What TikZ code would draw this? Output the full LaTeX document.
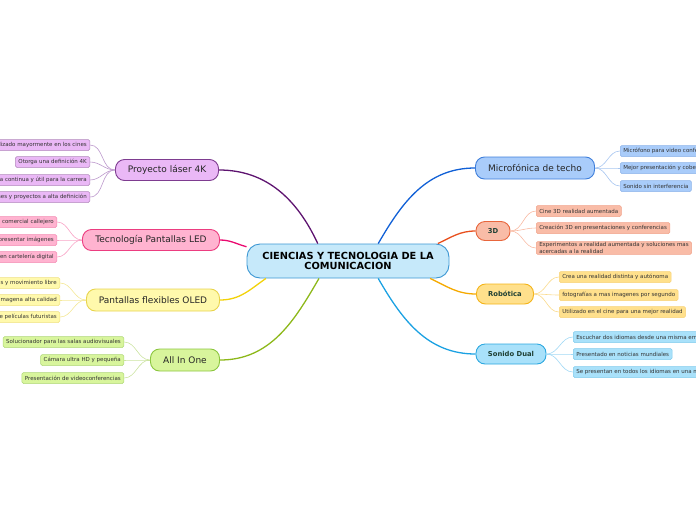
\documentclass[tikz,border=0pt]{standalone}
\usepackage{fontspec}
\setmainfont{DejaVu Sans}
\definecolor{ctrfill}{HTML}{C6E9FA}
\definecolor{ctrline}{HTML}{3C97D3}
\definecolor{violetfill}{HTML}{EAB8F6}
\definecolor{violetline}{HTML}{7E3C90}
\definecolor{violetbranch}{HTML}{5E1470}
\definecolor{violettwig}{HTML}{BC98CC}
\definecolor{pinkfill}{HTML}{FFB3D0}
\definecolor{pinkline}{HTML}{EC3D80}
\definecolor{pinkbranch}{HTML}{EA0A70}
\definecolor{pinktwig}{HTML}{F8A4C6}
\definecolor{yelfill}{HTML}{FFF9AC}
\definecolor{yelline}{HTML}{E8D44E}
\definecolor{yelbranch}{HTML}{F2D20A}
\definecolor{yeltwig}{HTML}{F4E898}
\definecolor{grnfill}{HTML}{D8F59C}
\definecolor{grnline}{HTML}{8CC63F}
\definecolor{grnbranch}{HTML}{8DB81A}
\definecolor{grntwig}{HTML}{CBE3A0}
\definecolor{bluefill}{HTML}{A9CCFA}
\definecolor{blueline}{HTML}{3F7FDB}
\definecolor{bluebranch}{HTML}{1160D6}
\definecolor{bluetwig}{HTML}{A8C6F0}
\definecolor{orgfill}{HTML}{F9BCA7}
\definecolor{orgline}{HTML}{E8663C}
\definecolor{orgbranch}{HTML}{E8501E}
\definecolor{orgtwig}{HTML}{F8BBA4}
\definecolor{ambfill}{HTML}{FFE08C}
\definecolor{ambline}{HTML}{F4B41A}
\definecolor{ambbranch}{HTML}{F5A900}
\definecolor{ambtwig}{HTML}{FADB8E}
\definecolor{skyfill}{HTML}{A9E1FA}
\definecolor{skyline}{HTML}{2CA8E0}
\definecolor{skybranch}{HTML}{1BA1E2}
\definecolor{skytwig}{HTML}{A2D9F5}
\definecolor{darkgrn}{HTML}{1F4034}
\begin{document}
\begin{tikzpicture}[x=1pt, y=1pt,
  every node/.style={font=\fontsize{5.5}{6.6}\selectfont, text=black!80},
  central/.style={draw=ctrline, fill=ctrfill, line width=0.9pt, rounded corners=13pt,
    minimum width=202pt, minimum height=34pt, inner sep=0pt, align=center,
    font=\bfseries\fontsize{9.8}{10.6}\selectfont, text=black},
  topic/.style={rounded corners=9pt, line width=0.9pt, inner sep=0pt,
    minimum height=21pt, font=\fontsize{9}{10}\selectfont, text=black!85},
  subtopic/.style={topic, minimum height=20pt, font=\bfseries\fontsize{6.8}{8}\selectfont, text=darkgrn},
  leaf/.style={rounded corners=1.5pt, line width=0.5pt, inner xsep=3pt, inner ysep=1pt,
    minimum height=11pt},
  branch/.style={line width=1.3pt},
  twig/.style={line width=0.6pt}]
\useasboundingbox (0,0) rectangle (696,-520);
\clip (0,0) rectangle (696,-520);

% centre
\node[central] (ctr) at (348,-261) {CIENCIAS Y TECNOLOGIA DE LA\\COMUNICACION};

% main topics, left
\node[topic, draw=violetline, fill=violetfill, minimum width=103pt] (proy) at (167,-170) {Proyecto láser 4K};
\node[topic, draw=pinkline, fill=pinkfill, minimum width=137pt] (led) at (151,-240) {Tecnología Pantallas LED};
\node[topic, draw=yelline, fill=yelfill, minimum width=133pt, minimum height=22pt] (oled) at (153,-300) {Pantallas flexibles OLED};
\node[topic, draw=grnline, fill=grnfill, minimum width=69pt, minimum height=22pt] (aio) at (185,-360) {All In One};

% main topics, right
\node[topic, draw=blueline, fill=bluefill, minimum width=119pt, minimum height=22pt] (mic) at (535,-168) {Microfónica de techo};
\node[subtopic, draw=orgline, fill=orgfill, minimum width=34pt, minimum height=19pt] (tres) at (493,-231) {3D};
\node[subtopic, draw=ambline, fill=ambfill, minimum width=57pt] (robo) at (505,-294) {Robótica};
\node[subtopic, draw=skyline, fill=skyfill, minimum width=70pt] (dual) at (511,-354) {Sonido Dual};

% branches
\draw[branch, violetbranch] (ctr.150) to[out=115, in=0] (proy.east);
\draw[branch, pinkbranch] (ctr.172) to[out=165, in=0] (led.east);
\draw[branch, yelbranch] (ctr.192) to[out=215, in=0] (oled.east);
\draw[branch, grnbranch] (ctr.211) to[out=240, in=0] (aio.east);
\draw[branch, bluebranch] (ctr.30) to[out=60, in=180] (mic.west);
\draw[branch, orgbranch] (ctr.11) to[out=25, in=180] (tres.west);
\draw[branch, ambbranch] (ctr.348) to[out=-25, in=180] (robo.west);
\draw[branch, skybranch] (ctr.330) to[out=-60, in=180] (dual.west);

% leaves, left
\foreach \i/\y/\txt in {1/145/Utilizado mayormente en los cines, 2/162/Otorga una definición 4K,
    3/180/Tecnología continua y útil para la carrera, 4/197/Imágenes y proyectos a alta definición} {
  \node[leaf, draw=violetline!60, fill=violetfill, anchor=east] (p\i) at (90,-\y) {\txt};
  \draw[twig, violettwig] (proy.west) to[out=180, in=0] (p\i.east);
}
\foreach \i/\y/\txt in {1/222/Publicidad comercial callejero, 2/240/Utilizado para representar imágenes,
    3/257/Usado en cartelería digital} {
  \node[leaf, draw=pinkline!60, fill=pinkfill, anchor=east] (l\i) at (57,-\y) {\txt};
  \draw[twig, pinktwig] (led.west) to[out=180, in=0] (l\i.east);
}
\foreach \i/\y/\txt in {1/283/Pantallas flexibles y movimiento libre, 2/300/Presenta una imagena alta calidad,
    3/317/Usado en escenas de películas futuristas} {
  \node[leaf, draw=yelline!70, fill=yelfill, anchor=east] (o\i) at (60,-\y) {\txt};
  \draw[twig, yeltwig] (oled.west) to[out=180, in=0] (o\i.east);
}
\foreach \i/\y/\txt in {1/342/Solucionador para las salas audiovisuales, 2/360/Cámara ultra HD y pequeña,
    3/378/Presentación de videoconferencias} {
  \node[leaf, draw=grnline!70, fill=grnfill, anchor=east] (a\i) at (124,-\y) {\txt};
  \draw[twig, grntwig] (aio.west) to[out=180, in=0] (a\i.east);
}

% leaves, right
\foreach \i/\y/\txt in {1/151/Micrófono para video conferencias, 2/168/Mejor presentación y cobertura de sonido,
    3/186/Sonido sin interferencia} {
  \node[leaf, draw=blueline!60, fill=bluefill, anchor=west] (m\i) at (620,-\y) {\txt};
  \draw[twig, bluetwig] (mic.east) to[out=0, in=180] (m\i.west);
}
\foreach \i/\y/\txt in {1/211/Cine 3D realidad aumentada, 2/228/Creación 3D en presentaciones y conferencias,
    3/248/{Experimentos a realidad aumentada y soluciones mas\\acercadas a la realidad}} {
  \node[leaf, draw=orgline!60, fill=orgfill, anchor=west, align=left] (t\i) at (536,-\y) {\txt};
  \draw[twig, orgtwig] (tres.east) to[out=0, in=180] (t\i.west);
}
\foreach \i/\y/\txt in {1/277/Crea una realidad distinta y autónoma, 2/295/fotografías a mas imagenes por segundo,
    3/312/Utilizado en el cine para una mejor realidad} {
  \node[leaf, draw=ambline!60, fill=ambfill, anchor=west] (r\i) at (559,-\y) {\txt};
  \draw[twig, ambtwig] (robo.east) to[out=0, in=180] (r\i.west);
}
\foreach \i/\y/\txt in {1/337/Escuchar dos idiomas desde una misma emisión, 2/354/Presentado en noticias mundiales,
    3/372/Se presentan en todos los idiomas en una misma transmisión} {
  \node[leaf, draw=skyline!60, fill=skyfill, anchor=west] (s\i) at (573,-\y) {\txt};
  \draw[twig, skytwig] (dual.east) to[out=0, in=180] (s\i.west);
}
\end{tikzpicture}
\end{document}
